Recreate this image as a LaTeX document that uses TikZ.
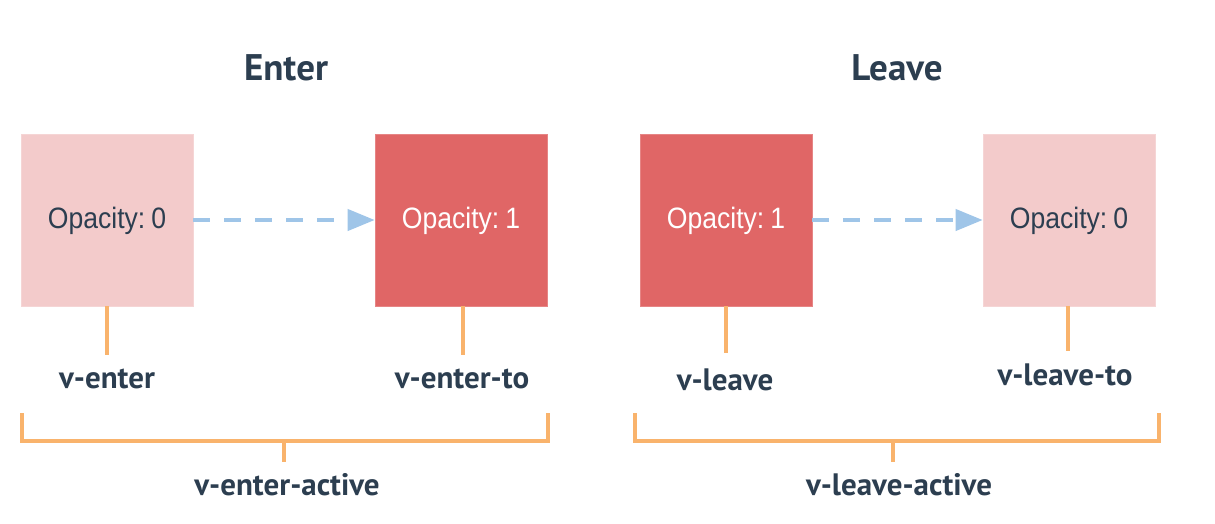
\documentclass[tikz,border=0pt]{standalone}
\usepackage{fontspec}
\setmainfont{PT Sans}
\newfontfamily\opfont[FakeStretch=0.9]{Liberation Sans}
\usetikzlibrary{arrows.meta}
\definecolor{lightbox}{HTML}{F3CBCB}
\definecolor{redbox}{HTML}{E06666}
\definecolor{darktext}{HTML}{2C3E50}
\definecolor{orangeline}{HTML}{F9B36C}
\definecolor{bluearrow}{HTML}{9FC5E8}
\tikzset{
  statebox/.style={minimum width=172pt, minimum height=172pt, inner sep=0pt, draw=#1!80!white, line width=0.6pt, fill=#1},
  lighttext/.style={font=\opfont\fontsize{29.5}{34}\selectfont, text=darktext, yshift=-1pt},
  whitetext/.style={font=\opfont\fontsize{29.5}{34}\selectfont, text=white, yshift=-1pt},
  title/.style={font=\bfseries\fontsize{37}{42}\selectfont, text=darktext},
  label/.style={font=\bfseries\fontsize{31}{36}\selectfont, text=darktext},
  orange/.style={draw=orangeline, line width=3.8pt},
  flow/.style={draw=bluearrow, line width=4pt, dash pattern=on 17pt off 14pt, -{Triangle[length=27pt,width=21pt]}}
}
\begin{document}
\begin{tikzpicture}[x=1pt,y=-1pt]
\useasboundingbox (0,0) rectangle (1215,523);
\node[title] (tenter) at (286,68) {Enter};
\node[title] (tleave) at (897,68) {Leave};

\node[statebox=lightbox] (b1) at (107,220) {};
\node[statebox=redbox] (b2) at (461,220) {};
\node[statebox=redbox] (b3) at (726,220) {};
\node[statebox=lightbox] (b4) at (1069,220) {};
\node[lighttext] (t1) at (b1) {Opacity:\kern0.2em 0};
\node[whitetext] (t2) at (b2) {Opacity:\kern0.2em 1};
\node[whitetext] (t3) at (b3) {Opacity:\kern0.2em 1};
\node[lighttext] (t4) at (b4) {Opacity:\kern0.2em 0};

\draw[flow] (b1.east) -- (b2.west);
\draw[flow] (b3.east) -- (b4.west);

\coordinate (s1) at (107,355);
\coordinate (s2) at (463,355);
\coordinate (s3) at (726,353);
\coordinate (s4) at (1068,351);
\draw[orange] (b1.south) -- (s1);
\draw[orange] (b2.south -| s2) -- (s2);
\draw[orange] (b3.south) -- (s3);
\draw[orange] (b4.south -| s4) -- (s4);

\node[label] (l1) at (107,379) {v-enter};
\node[label] (l2) at (462,379) {v-enter-to};
\node[label] (l3) at (725,380) {v-leave};
\node[label] (l4) at (1065,375) {v-leave-to};

\coordinate (ea) at (22,413);
\coordinate (eb) at (22,441);
\coordinate (ec) at (548,441);
\coordinate (ed) at (548,413);
\coordinate (em) at (284,441);
\coordinate (en) at (284,462);
\draw[orange, line join=miter] (ea) -- (eb) -- (ec) -- (ed);
\draw[orange] (em) -- (en);
\node[label] (la) at (287,485) {v-enter-active};

\coordinate (fa) at (635,413);
\coordinate (fb) at (635,441);
\coordinate (fc) at (1159,441);
\coordinate (fd) at (1159,413);
\coordinate (fm) at (893,441);
\coordinate (fn) at (893,462);
\draw[orange, line join=miter] (fa) -- (fb) -- (fc) -- (fd);
\draw[orange] (fm) -- (fn);
\node[label] (lb) at (899,485) {v-leave-active};
\end{tikzpicture}
\end{document}
